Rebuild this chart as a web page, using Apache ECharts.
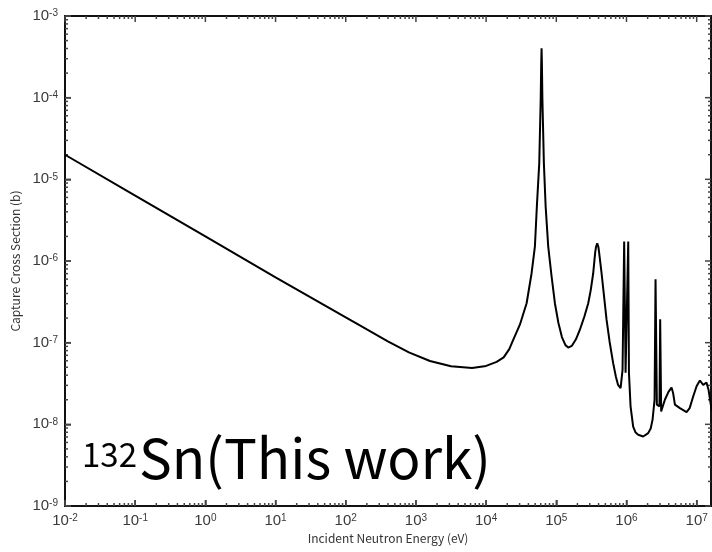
<!DOCTYPE html>
<html><head><meta charset="utf-8">
<script src="https://cdn.jsdelivr.net/npm/echarts@6/dist/echarts.min.js"></script>
<style>html,body{margin:0;padding:0;background:#fff}#c{width:712px;height:552px}</style>
</head><body><div id="c"></div>
<script>
// Incident neutron energy (eV)
const energies = [
  0.01, 0.1, 1, 10, 100, 200, 398, 794, 1585, 3162, 6310, 10000, 14130, 17780, 21380,
  24320, 30270, 37760, 44460, 49550, 52860, 57150, 60010, 60920, 61660, 62400, 63310,
  66530, 70460, 76740, 85700, 95500, 107200, 120200, 134900, 147900, 166000, 190500,
  216800, 251200, 285100, 309000, 335700, 357600, 367500, 382800, 398100, 408000, 441600,
  478600, 520000, 575400, 645700, 707900, 758600, 824100, 879000, 926800, 970600, 1.059e6,
  1.084e6, 1.143e6, 1.245e6, 1.349e6, 1.469e6, 1.730e6, 2.037e6, 2.213e6, 2.350e6,
  2.512e6, 2.594e6, 2.710e6, 2.951e6, 3.020e6, 3.119e6, 3.524e6, 3.981e6, 4.385e6,
  4.624e6, 4.898e6, 5.768e6, 7.178e6, 7.943e6, 8.913e6, 1.0e7, 1.112e7, 1.239e7, 1.380e7,
  1.479e7, 1.629e7, 2.0e7
];
// Capture cross section (b)
const crossSections = [
  2.00e-5, 6.31e-6, 2.00e-6, 6.31e-7, 2.04e-7, 1.45e-7, 1.04e-7, 7.59e-8, 5.96e-8, 5.13e-8,
  4.90e-8, 5.19e-8, 5.82e-8, 6.61e-8, 8.32e-8, 1.08e-7, 1.66e-7, 3.04e-7, 7.08e-7, 1.50e-6,
  4.68e-6, 1.57e-5, 1.00e-4, 2.51e-4, 4.03e-4, 2.51e-4, 1.00e-4, 1.58e-5, 4.68e-6, 1.50e-6,
  6.46e-7, 3.04e-7, 1.74e-7, 1.17e-7, 9.33e-8, 8.71e-8, 9.12e-8, 1.10e-7, 1.44e-7, 2.09e-7,
  3.04e-7, 4.37e-7, 7.08e-7, 1.26e-6, 1.48e-6, 1.65e-6, 1.48e-6, 1.26e-6, 7.08e-7, 3.72e-7,
  1.91e-7, 1.02e-7, 5.61e-8, 3.80e-8, 3.04e-8, 2.77e-8, 4.65e-8, 1.73e-6, 4.27e-8, 1.73e-6,
  4.27e-8, 1.66e-8, 9.40e-9, 7.94e-9, 7.45e-9, 7.10e-9, 7.80e-9, 8.91e-9, 1.135e-8,
  2.00e-8, 5.98e-7, 1.74e-8, 1.66e-8, 1.94e-7, 1.44e-8, 2.00e-8, 2.51e-8, 2.82e-8,
  2.40e-8, 1.74e-8, 1.58e-8, 1.41e-8, 1.58e-8, 2.19e-8, 2.95e-8, 3.44e-8, 3.04e-8, 3.25e-8,
  2.63e-8, 1.51e-8, 1.38e-8
];
const xMajorTicks = [1e-2, 1e-1, 1e0, 1e1, 1e2, 1e3, 1e4, 1e5, 1e6, 1e7];
const yMajorTicks = [1e-9, 1e-8, 1e-7, 1e-6, 1e-5, 1e-4, 1e-3];
const minorMultipliers = [2, 3, 4, 5, 6, 7, 8, 9];
const xMin = 1e-2, xMax = 1.6e7, yMin = 1e-9, yMax = 1e-3;
const xTitle = 'Incident Neutron Energy (eV)';
const yTitle = 'Capture Cross Section (b)';
const labelSup = '132';
const labelMain = 'Sn(This work)';

const MAJOR_LEN = 6, MINOR_LEN = 3;
function minors(majors, max) {
  const out = [];
  majors.forEach(m => minorMultipliers.forEach(k => { const v = m * k; if (v < max * 0.999) out.push(v); }));
  return out;
}
const xTickVals = xMajorTicks.concat(minors(xMajorTicks, xMax));
const xTickLens = xMajorTicks.map(() => MAJOR_LEN).concat(minors(xMajorTicks, xMax).map(() => MINOR_LEN));
const yTickVals = yMajorTicks.concat(minors(yMajorTicks, yMax));
const yTickLens = yMajorTicks.map(() => MAJOR_LEN).concat(minors(yMajorTicks, yMax).map(() => MINOR_LEN));

const seriesData = energies.map((e, i) => [e, crossSections[i]]);

function expLabel(v) {
  const e = Math.round(Math.log10(v));
  return '{b|10}{s|' + e + '}';
}
const labelFont = 'Liberation Sans, Arial, sans-serif';
const labelRich = {
  b: { fontSize: 15, color: '#3a3a3a', fontFamily: labelFont },
  s: { fontSize: 10, color: '#3a3a3a', fontFamily: labelFont, verticalAlign: 'top' }
};

// side: 'bottom' | 'top' | 'left' | 'right'
function tickSeries(side) {
  const vertical = side === 'bottom' || side === 'top';
  const vals = vertical ? xTickVals : yTickVals;
  const lens = vertical ? xTickLens : yTickLens;
  return {
    type: 'custom', clip: false,
    encode: { x: 0, y: 1 },
    data: vals.map(v => vertical ? [v, yMin] : [xMin, v]),
    renderItem: function (params, api) {
      const len = lens[params.dataIndex];
      let p, x2, y2;
      if (side === 'bottom') { p = api.coord([api.value(0), yMin]); x2 = p[0]; y2 = p[1] - len; }
      else if (side === 'top') { p = api.coord([api.value(0), yMax]); x2 = p[0]; y2 = p[1] + len; }
      else if (side === 'left') { p = api.coord([xMin, api.value(1)]); x2 = p[0] + len; y2 = p[1]; }
      else { p = api.coord([xMax, api.value(1)]); x2 = p[0] - len; y2 = p[1]; }
      return { type: 'line', shape: { x1: p[0], y1: p[1], x2: x2, y2: y2 }, style: { stroke: '#444', lineWidth: 1.5 } };
    }
  };
}

const option = {
  animation: false,
  grid: { left: 65, top: 16, width: 646, height: 490, show: true, borderColor: '#111', borderWidth: 2,
          containLabel: false, outerBoundsMode: 'none' },
  xAxis: {
    type: 'log', logBase: 10, min: xMin, max: xMax,
    splitLine: { show: false },
    axisLine: { show: true, lineStyle: { color: '#111', width: 2 } },
    axisTick: { show: true, inside: true, length: MAJOR_LEN, customValues: xMajorTicks, lineStyle: { color: '#444', width: 1.5 } },
    axisLabel: { show: true, customValues: xMajorTicks, margin: 7, formatter: expLabel, rich: labelRich },
    name: xTitle, nameLocation: 'middle', nameGap: 25,
    nameTextStyle: { fontSize: 12, color: '#333', fontFamily: 'Noto Sans CJK JP, sans-serif' }
  },
  yAxis: {
    type: 'log', logBase: 10, min: yMin, max: yMax,
    splitLine: { show: false },
    axisLine: { show: true, lineStyle: { color: '#111', width: 2 } },
    axisTick: { show: true, inside: true, length: MAJOR_LEN, customValues: yMajorTicks, lineStyle: { color: '#444', width: 1.5 } },
    axisLabel: { show: true, customValues: yMajorTicks, margin: 7, formatter: expLabel, rich: labelRich },
    name: yTitle, nameLocation: 'middle', nameGap: 41, nameRotate: 90,
    nameTextStyle: { fontSize: 12, color: '#333', fontFamily: 'Noto Sans CJK JP, sans-serif' }
  },
  series: [
    tickSeries('bottom'), tickSeries('top'), tickSeries('left'), tickSeries('right'),
    {
      type: 'line', data: seriesData,
      showSymbol: false, symbol: 'none', smooth: false,
      lineStyle: { color: '#000', width: 2 }
    }
  ],
  graphic: [
    { type: 'text', left: 82, top: 438, style: { text: labelSup, fontSize: 33, fill: '#000', fontFamily: 'Noto Sans CJK JP, sans-serif' } },
    { type: 'text', left: 139, top: 431, style: { text: labelMain, fontSize: 55, fill: '#000', fontFamily: 'Noto Sans CJK JP, sans-serif' } }
  ]
};
const chart = echarts.init(document.getElementById('c'));
chart.setOption(option);
</script></body></html>
